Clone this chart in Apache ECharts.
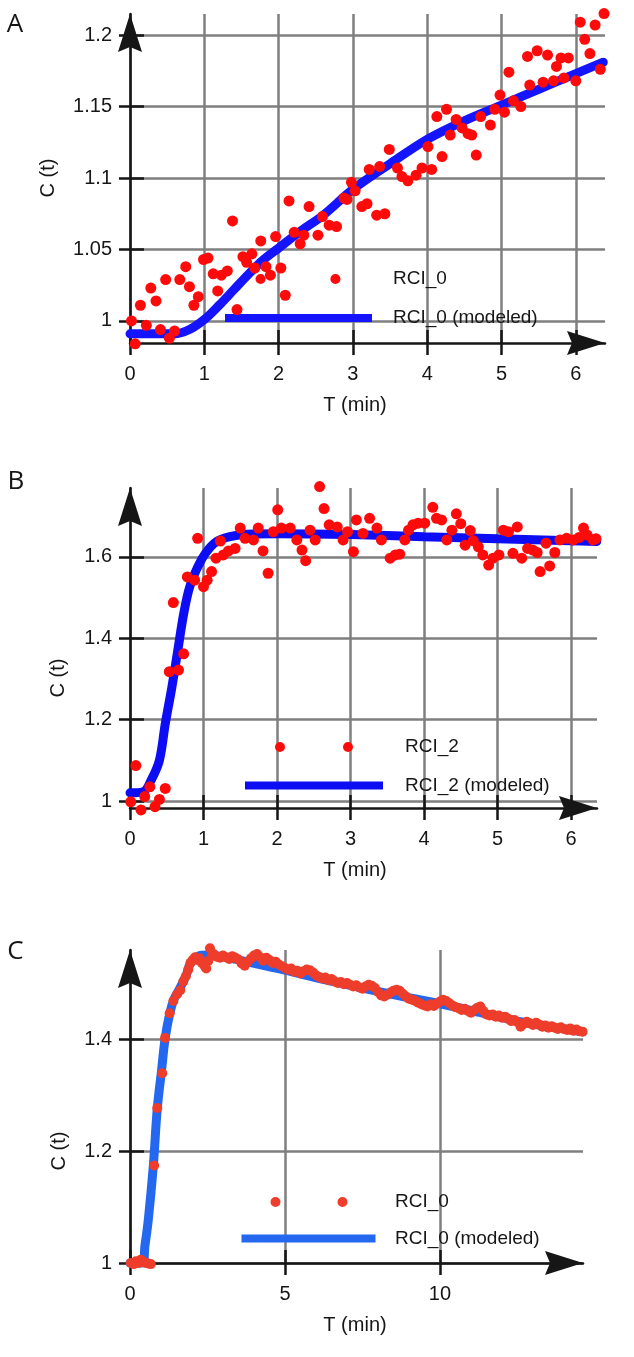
<!DOCTYPE html>
<html><head><meta charset="utf-8">
<script src="https://cdn.jsdelivr.net/npm/echarts@6/dist/echarts.min.js"></script>
<style>html,body{margin:0;padding:0;background:#fff}#c{width:634px;height:1357px}</style>
</head><body><div id="c"></div>
<script>
// ---------- tick values ----------
const aTicksX = [0, 1, 2, 3, 4, 5, 6];
const aTicksY = [1, 1.05, 1.1, 1.15, 1.2];
const bTicksX = [0, 1, 2, 3, 4, 5, 6];
const bTicksY = [1, 1.2, 1.4, 1.6];
const cTicksX = [0, 5, 10];
const cTicksY = [1, 1.2, 1.4];

// ---------- panel A : RCI_0 ----------
const aObserved = [[0.02,1.000],[0.07,0.984],[0.14,1.011],[0.22,0.997],[0.28,1.023],[0.35,1.014],[0.41,0.994],[0.48,1.029],[0.53,0.988],[0.60,0.993],[0.67,1.029],[0.75,1.038],[0.80,1.024],[0.86,1.011],[0.92,1.017],[0.99,1.043],[1.05,1.044],[1.12,1.033],[1.18,1.021],[1.23,1.032],[1.31,1.035],[1.38,1.070],[1.44,1.008],[1.52,1.045],[1.57,1.041],[1.64,1.047],[1.68,1.037],[1.76,1.056],[1.83,1.038],[1.89,1.032],[1.96,1.059],[2.03,1.037],[2.09,1.018],[2.14,1.084],[2.21,1.062],[2.29,1.054],[2.34,1.060],[2.41,1.080],[2.53,1.060],[2.59,1.073],[2.68,1.067],[2.78,1.066],[2.88,1.086],[2.92,1.085],[2.98,1.097],[3.03,1.091],[3.12,1.080],[3.19,1.082],[3.22,1.106],[3.32,1.074],[3.36,1.108],[3.43,1.075],[3.49,1.120],[3.60,1.107],[3.66,1.101],[3.74,1.098],[3.85,1.102],[3.93,1.107],[4.01,1.122],[4.06,1.106],[4.13,1.143],[4.20,1.115],[4.26,1.148],[4.31,1.130],[4.39,1.141],[4.47,1.135],[4.55,1.131],[4.60,1.130],[4.66,1.116],[4.72,1.143],[4.85,1.137],[4.91,1.148],[4.98,1.158],[5.04,1.146],[5.10,1.174],[5.16,1.154],[5.26,1.150],[5.35,1.185],[5.38,1.165],[5.48,1.189],[5.56,1.167],[5.62,1.186],[5.70,1.168],[5.74,1.178],[5.80,1.184],[5.84,1.170],[5.90,1.184],[6.00,1.168],[6.06,1.209],[6.12,1.197],[6.19,1.187],[6.26,1.207],[6.33,1.176],[6.38,1.215]];
const aModeled = [[0,0.991],[0.3,0.991],[0.6,0.991],[0.8,0.994],[1.0,1.001],[1.2,1.011],[1.4,1.022],[1.6,1.033],[1.8,1.043],[2.0,1.051],[2.3,1.063],[2.6,1.074],[3.0,1.092],[3.5,1.110],[4.0,1.127],[4.5,1.140],[5.0,1.151],[5.5,1.162],[6.0,1.173],[6.37,1.181]];

// ---------- panel B : RCI_2 ----------
const bObserved = [[0.01,0.998],[0.08,1.087],[0.15,0.978],[0.20,1.011],[0.27,1.035],[0.34,0.986],[0.40,1.004],[0.48,1.031],[0.535,1.318],[0.59,1.488],[0.66,1.322],[0.73,1.362],[0.78,1.551],[0.88,1.543],[0.92,1.646],[1.00,1.527],[1.05,1.543],[1.11,1.564],[1.17,1.597],[1.23,1.639],[1.27,1.605],[1.34,1.615],[1.43,1.621],[1.50,1.671],[1.565,1.646],[1.68,1.642],[1.745,1.671],[1.81,1.615],[1.88,1.560],[1.95,1.662],[2.01,1.716],[2.06,1.671],[2.18,1.671],[2.27,1.642],[2.34,1.617],[2.39,1.591],[2.45,1.666],[2.52,1.642],[2.58,1.773],[2.64,1.719],[2.71,1.679],[2.82,1.674],[2.90,1.642],[2.96,1.662],[3.04,1.613],[3.08,1.691],[3.17,1.658],[3.26,1.695],[3.36,1.671],[3.42,1.642],[3.54,1.597],[3.61,1.605],[3.67,1.607],[3.74,1.642],[3.79,1.666],[3.85,1.679],[3.92,1.683],[4.01,1.683],[4.12,1.722],[4.17,1.695],[4.24,1.691],[4.31,1.642],[4.38,1.666],[4.44,1.706],[4.50,1.682],[4.56,1.629],[4.63,1.665],[4.67,1.640],[4.74,1.625],[4.80,1.605],[4.88,1.580],[4.94,1.597],[5.02,1.605],[5.08,1.666],[5.15,1.662],[5.21,1.609],[5.27,1.674],[5.33,1.597],[5.41,1.621],[5.48,1.617],[5.54,1.611],[5.58,1.564],[5.66,1.634],[5.71,1.578],[5.78,1.611],[5.85,1.642],[5.94,1.646],[6.03,1.642],[6.11,1.648],[6.17,1.671],[6.22,1.654],[6.30,1.642],[6.34,1.645]];
const bModeled = [[0,1.02],[0.18,1.023],[0.29,1.052],[0.40,1.10],[0.48,1.19],[0.57,1.28],[0.65,1.37],[0.73,1.46],[0.81,1.525],[0.92,1.575],[1.03,1.61],[1.17,1.637],[1.36,1.650],[1.6,1.656],[2.0,1.657],[3.0,1.655],[4.0,1.650],[5.0,1.645],[6.0,1.640],[6.35,1.638]];

// ---------- panel C : RCI_0 ----------
const cObserved = [[0.03,1.000],[0.12,0.998],[0.19,1.003],[0.27,1.000],[0.35,1.006],[0.43,1.002],[0.51,1.000],[0.59,0.999],[0.67,0.998],[0.78,1.174],[0.88,1.277],[1.04,1.339],[1.13,1.402],[1.28,1.446],[1.40,1.468],[1.52,1.480],[1.62,1.487],[1.72,1.503],[1.80,1.512],[1.88,1.524],[1.95,1.536],[2.02,1.541],[2.10,1.546],[2.17,1.541],[2.25,1.544],[2.32,1.536],[2.40,1.531],[2.46,1.526],[2.52,1.539],[2.58,1.562],[2.65,1.549],
[2.7,1.552],[2.8,1.547],[2.9,1.545],[3.0,1.549],[3.1,1.546],[3.2,1.543],[3.3,1.548],[3.4,1.545],[3.5,1.542],[3.6,1.535],[3.7,1.531],[3.8,1.538],[3.9,1.544],[4.0,1.549],[4.1,1.552],[4.2,1.546],[4.3,1.540],[4.4,1.545],[4.5,1.541],[4.6,1.536],[4.7,1.538],[4.8,1.533],[4.9,1.530],[5.0,1.527],[5.1,1.524],[5.2,1.526],[5.3,1.520],[5.4,1.522],[5.5,1.517],[5.6,1.521],[5.7,1.524],[5.8,1.523],[5.9,1.519],[6.0,1.514],[6.1,1.511],[6.2,1.508],[6.3,1.510],[6.4,1.505],[6.5,1.507],[6.6,1.503],[6.7,1.500],[6.8,1.502],[6.9,1.498],[7.0,1.500],[7.1,1.497],[7.2,1.494],[7.3,1.496],[7.4,1.492],[7.5,1.490],[7.6,1.494],[7.7,1.497],[7.8,1.495],[7.9,1.491],[8.0,1.484],[8.1,1.478],[8.2,1.476],[8.3,1.479],[8.4,1.483],[8.5,1.486],[8.6,1.488],[8.7,1.486],[8.8,1.481],[8.9,1.476],[9.0,1.472],[9.1,1.470],[9.2,1.468],[9.3,1.465],[9.4,1.462],[9.5,1.460],[9.6,1.458],[9.7,1.462],[9.8,1.459],[9.9,1.463],[10.0,1.467],[10.1,1.470],[10.2,1.468],[10.3,1.464],[10.4,1.460],[10.5,1.457],[10.6,1.455],[10.7,1.452],[10.8,1.454],[10.9,1.450],[11.0,1.447],[11.1,1.452],[11.2,1.456],[11.3,1.458],[11.4,1.450],[11.5,1.444],[11.6,1.442],[11.7,1.444],[11.8,1.440],[11.9,1.442],[12.0,1.438],[12.1,1.440],[12.2,1.436],[12.3,1.432],[12.4,1.434],[12.5,1.430],[12.6,1.422],[12.7,1.427],[12.8,1.431],[12.9,1.428],[13.0,1.425],[13.1,1.429],[13.2,1.426],[13.3,1.422],[13.4,1.424],[13.5,1.420],[13.6,1.423],[13.7,1.420],[13.8,1.418],[13.9,1.421],[14.0,1.418],[14.1,1.416],[14.2,1.419],[14.3,1.415],[14.4,1.417],[14.5,1.414],[14.6,1.413]];
const cModeled = [[0,1.0],[0.40,1.0],[0.48,1.03],[0.59,1.077],[0.75,1.172],[0.88,1.276],[1.02,1.345],[1.13,1.40],[1.28,1.445],[1.41,1.47],[1.6,1.49],[1.8,1.512],[1.95,1.535],[2.2,1.548],[2.5,1.550],[3.0,1.547],[3.6,1.540],[5.0,1.523],[6.2,1.507],[7.5,1.491],[8.8,1.476],[10.0,1.463],[11.4,1.446],[12.7,1.430],[14.6,1.413]];

// ---------- styling ----------
const FONT = 'Liberation Sans';
const INK = '#161616';
const GRID = '#7f7f7f';
const ARROW = 'path://M12,0 L24,38 L12,33 L0,38 Z';

function mainAxis(dim, g, ticks, min, max) {
  const isX = dim === 'x';
  return {
    type: 'value', gridIndex: g, min: min, max: max,
    position: isX ? 'bottom' : 'left',
    axisLine: { show: true, onZero: false, lineStyle: { color: INK, width: 2.5 },
      symbol: ['none', ARROW], symbolSize: [25, 38], symbolOffset: [0, -19] },
    axisTick: { show: true, inside: false, length: isX ? 12 : 11,
      lineStyle: { color: INK, width: 2.5 }, customValues: ticks },
    axisLabel: { show: true, margin: isX ? 21 : 18, fontSize: 20, fontFamily: FONT, color: INK,
      customValues: ticks, formatter: v => String(v) },
    splitLine: { show: true, lineStyle: { color: GRID, width: 2.5 } }
  };
}
function innerAxis(dim, g, ticks, min, max) {
  const isX = dim === 'x';
  return {
    type: 'value', gridIndex: g, min: min, max: max,
    position: isX ? 'bottom' : 'left',
    axisLine: { show: false, onZero: false },
    axisTick: { show: true, inside: true, length: isX ? 13 : 14,
      lineStyle: { color: INK, width: 2.5 }, customValues: ticks },
    axisLabel: { show: false, customValues: ticks },
    splitLine: { show: false }
  };
}
const dotsIcon = gap => `path://M0,5a5,5 0 1,0 10,0a5,5 0 1,0 -10,0Z M${gap},5a5,5 0 1,0 10,0a5,5 0 1,0 -10,0Z`;
function legendBox(name, left, top, w, h, icon, color, pad) {
  return {
    data: [{ name: name, icon: icon, itemStyle: { color: color, borderWidth: 0, opacity: 1 } }],
    left: left, top: top, orient: 'horizontal', padding: 0,
    itemWidth: w, itemHeight: h, selectedMode: false,
    textStyle: { fontSize: 19, fontFamily: FONT, color: INK, padding: [0, 0, 0, pad] }
  };
}
function txt(s, x, y, size, family, rot) {
  return { type: 'text', x: x, y: y, rotation: rot || 0, silent: true,
    style: { text: s, font: size + 'px "' + family + '"', fill: INK, align: 'center', verticalAlign: 'middle' } };
}

const A = { x: [0, 6.393], y: [0.9846, 1.2147] };
const B = { x: [0, 6.354], y: [0.9828, 1.7696] };
const C = { x: [0, 14.613], y: [1, 1.559] };

const option = {
  animation: false,
  backgroundColor: '#ffffff',
  grid: [
    { left: 130, top: 14, width: 475, height: 329, outerBoundsMode: 'none' },
    { left: 130, top: 488, width: 467, height: 320, outerBoundsMode: 'none' },
    { left: 130, top: 950, width: 453, height: 313, outerBoundsMode: 'none' }
  ],
  xAxis: [
    mainAxis('x', 0, aTicksX, A.x[0], A.x[1]), innerAxis('x', 0, aTicksX, A.x[0], A.x[1]),
    mainAxis('x', 1, bTicksX, B.x[0], B.x[1]), innerAxis('x', 1, bTicksX, B.x[0], B.x[1]),
    mainAxis('x', 2, cTicksX, C.x[0], C.x[1]), innerAxis('x', 2, cTicksX, C.x[0], C.x[1])
  ],
  yAxis: [
    mainAxis('y', 0, aTicksY, A.y[0], A.y[1]), innerAxis('y', 0, aTicksY, A.y[0], A.y[1]),
    mainAxis('y', 1, bTicksY, B.y[0], B.y[1]), innerAxis('y', 1, bTicksY, B.y[0], B.y[1]),
    mainAxis('y', 2, cTicksY, C.y[0], C.y[1]), innerAxis('y', 2, cTicksY, C.y[0], C.y[1])
  ],
  legend: [
    legendBox('RCI_0', 255.5, 269.5, 85, 11, dotsIcon(74), '#ff0a0a', 47.5),
    legendBox('RCI_0 (modeled)', 225, 308.5, 147, 8, 'rect', '#1414ff', 16),
    legendBox('RCI_2', 275, 737.5, 78, 10, dotsIcon(68), '#ff0a0a', 47),
    legendBox('RCI_2 (modeled)', 245, 776, 138, 8, 'rect', '#0c0cf5', 17),
    legendBox('RCI_0', 270.5, 1192.5, 77, 10, dotsIcon(67), '#ee3d2b', 42.5),
    legendBox('RCI_0 (modeled)', 241.5, 1229, 134, 8, 'rect', '#2468f0', 14.5)
  ],
  series: [
    { type: 'line', name: 'RCI_0 (modeled)', xAxisIndex: 0, yAxisIndex: 0, data: aModeled,
      showSymbol: false, smooth: 0.35, clip: false, color: '#1414ff',
      lineStyle: { width: 9, color: '#1414ff', cap: 'round' }, z: 3 },
    { type: 'scatter', name: 'RCI_0', xAxisIndex: 0, yAxisIndex: 0, data: aObserved,
      symbolSize: 11, clip: false, itemStyle: { color: '#ff0a0a', opacity: 1 }, z: 4 },
    { type: 'line', name: 'RCI_2 (modeled)', xAxisIndex: 2, yAxisIndex: 2, data: bModeled,
      showSymbol: false, smooth: 0.35, clip: false, color: '#0c0cf5',
      lineStyle: { width: 9, color: '#0c0cf5', cap: 'round' }, z: 3 },
    { type: 'scatter', name: 'RCI_2', xAxisIndex: 2, yAxisIndex: 2, data: bObserved,
      symbolSize: 11, clip: false, itemStyle: { color: '#ff0a0a', opacity: 1 }, z: 4 },
    { type: 'line', name: 'RCI_0 (modeled)', xAxisIndex: 4, yAxisIndex: 4, data: cModeled,
      showSymbol: false, smooth: 0.35, clip: false, color: '#2468f0',
      lineStyle: { width: 9, color: '#2468f0', cap: 'round' }, z: 3 },
    { type: 'scatter', name: 'RCI_0', xAxisIndex: 4, yAxisIndex: 4, data: cObserved,
      symbolSize: 10, clip: false, itemStyle: { color: '#ee3d2b', opacity: 1 }, z: 4 }
  ],
  graphic: [
    txt('A', 15, 25, 26, 'Open Sans'),
    txt('B', 16, 482, 26, 'Open Sans'),
    txt('C', 15.5, 952, 26, 'Open Sans'),
    txt('C (t)', 48, 178, 20, FONT, Math.PI / 2),
    txt('C (t)', 58.5, 678, 20, FONT, Math.PI / 2),
    txt('C (t)', 59, 1151, 20, FONT, Math.PI / 2),
    txt('T (min)', 355, 405, 20, FONT),
    txt('T (min)', 355, 870, 20, FONT),
    txt('T (min)', 355, 1325, 20, FONT)
  ]
};
const chart = echarts.init(document.getElementById('c'), null, { renderer: 'canvas' });
chart.setOption(option);
</script>
</body></html>
